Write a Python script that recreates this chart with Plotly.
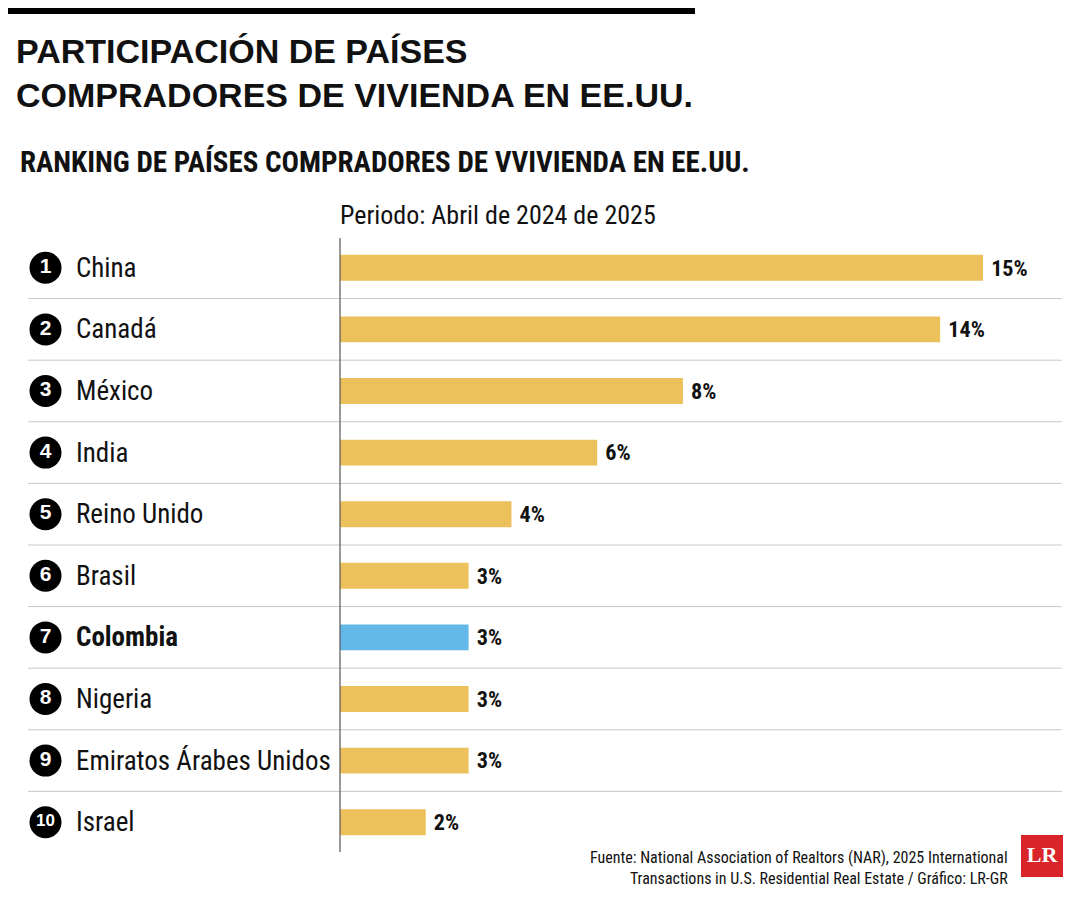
import plotly.graph_objects as go

paises = ["China", "Canadá", "México", "India", "Reino Unido", "Brasil", "Colombia",
          "Nigeria", "Emiratos Árabes Unidos", "Israel"]
valores = [15, 14, 8, 6, 4, 3, 3, 3, 3, 2]
etiquetas = ["15%", "14%", "8%", "6%", "4%", "3%", "3%", "3%", "3%", "2%"]
puestos = [str(i + 1) for i in range(len(paises))]

# page has 8px body margin, so lay out on a slightly smaller canvas
OFF = 8
W, H = 1080 - OFF, 900 - OFF
FN = "Liberation Sans Narrow, Roboto Condensed, Arial Narrow, sans-serif"
AMARILLO = "#ecc15c"
AZUL = "#64b8e8"


def px(x):
    return (x - OFF) / W


def py(y):
    return 1 - (y - OFF) / H


colores = [AZUL if p == "Colombia" else AMARILLO for p in paises]
idx = list(range(len(paises)))

fig = go.Figure(go.Bar(
    x=valores, y=idx, orientation="h", width=0.42,
    marker=dict(color=colores, line=dict(width=0)),
    text=etiquetas, texttemplate="<b> %{text}</b>", textposition="outside", cliponaxis=False,
    textfont=dict(family=FN, size=30, color="#111"),
))
# numbered circles, placed on a pixel-scaled full-width axis
fig.add_trace(go.Scatter(
    x=[45.5] * len(paises), y=idx, xaxis="x2", mode="markers+text",
    marker=dict(size=32, color="black"), text=["<b>%s</b>" % s for s in puestos],
    textposition="middle center", cliponaxis=False, hoverinfo="skip",
    textfont=dict(family="Liberation Sans, Arial", size=[21] * 9 + [17], color="white"),
))
# LR logo, on pixel-scaled axes
fig.add_trace(go.Scatter(
    x=[1042], y=[856], xaxis="x2", yaxis="y2", mode="markers+text", cliponaxis=False,
    marker=dict(size=42, symbol="square", color="#d9252a"), text=["<b>LR</b>"],
    textposition="middle center", hoverinfo="skip",
    textfont=dict(family="Liberation Serif, serif", size=22, color="white"),
))

fig.update_layout(
    width=W, height=H, margin=dict(l=0, r=0, t=0, b=0),
    paper_bgcolor="white", plot_bgcolor="rgba(0,0,0,0)", showlegend=False,
    xaxis=dict(domain=[px(340), px(983)], range=[0, 15], visible=False),
    xaxis2=dict(domain=[0, 1], range=[OFF, 1080], anchor="y", visible=False),
    yaxis=dict(domain=[py(853), py(237)], range=[9.5, -0.5], visible=False),
    yaxis2=dict(domain=[0, 1], range=[900, OFF], anchor="x2", visible=False),
)

shapes = [
    dict(type="rect", xref="paper", yref="paper", x0=px(8), x1=px(695),
         y0=py(14), y1=py(8), fillcolor="black", line_width=0),
    dict(type="line", xref="paper", yref="paper", x0=px(340), x1=px(340),
         y0=py(852), y1=py(238), line=dict(color="#555", width=1.2)),
]
ann = []
for i, p in enumerate(paises):
    if i < len(paises) - 1:
        shapes.append(dict(type="line", xref="paper", yref="y", x0=px(28), x1=px(1062),
                           y0=i + 0.5, y1=i + 0.5, line=dict(color="#c8c8c8", width=1),
                           layer="below"))
    txt = "<b>%s</b>" % p if p == "Colombia" else p
    ann.append(dict(xref="paper", yref="y", x=px(74), y=i, text=txt, xanchor="left",
                    showarrow=False, font=dict(family=FN, size=27, color="#111")))

ann += [
    dict(xref="paper", yref="paper", x=px(14), y=py(30), xanchor="left", yanchor="top",
         align="left", showarrow=False,
         text="<b>PARTICIPACIÓN DE PAÍSES<br>COMPRADORES DE VIVIENDA EN EE.UU.</b>",
         font=dict(family="Liberation Sans, Arial", size=34, color="#111")),
    dict(xref="paper", yref="paper", x=px(18), y=py(143), xanchor="left", yanchor="top",
         showarrow=False, text="<b>RANKING DE PAÍSES COMPRADORES DE VVIVIENDA EN EE.UU.</b>",
         font=dict(family=FN, size=29, color="#111")),
    dict(xref="paper", yref="paper", x=px(338), y=py(198), xanchor="left", yanchor="top",
         showarrow=False, text="Periodo: Abril de 2024 de 2025",
         font=dict(family=FN, size=26, color="#111")),
    dict(xref="paper", yref="paper", x=px(1010), y=py(846), xanchor="right", yanchor="top",
         align="right", showarrow=False,
         text="Fuente: National Association of Realtors (NAR), 2025 International<br>"
              "Transactions in U.S. Residential Real Estate / Gráfico: LR-GR",
         font=dict(family=FN, size=16, color="#111")),
]
fig.update_layout(shapes=shapes, annotations=ann)
fig.write_html("out.html")
